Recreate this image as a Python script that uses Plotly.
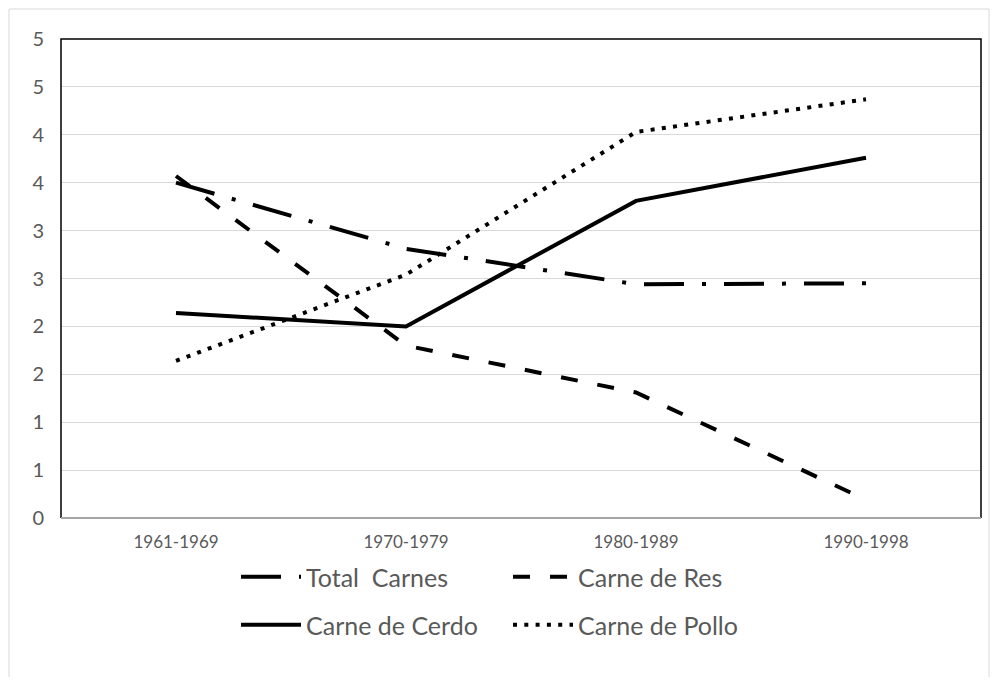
import plotly.graph_objects as go

categories = ["1961-1969", "1970-1979", "1980-1989", "1990-1998"]
total_carnes = [3.50, 2.81, 2.44, 2.45]
carne_res = [3.57, 1.80, 1.31, 0.19]
carne_cerdo = [2.14, 2.00, 3.31, 3.76]
carne_pollo = [1.64, 2.54, 4.03, 4.37]

y_tickvals = [0, 0.5, 1, 1.5, 2, 2.5, 3, 3.5, 4, 4.5, 5]
y_ticktext = ["0", "1", "1", "2", "2", "3", "3", "4", "4", "5", "5"]

# page body has an 8px margin; work in reference pixel coordinates and shift
OFF = 8
W, H = 998 - 2 * OFF, 685 - 2 * OFF
PL, PR, PT, PB = 61, 981, 39, 518          # plot area in reference pixels
L, T = PL - OFF, PT - OFF
R = W - (PR - OFF)
B = H - (PB - OFF)
pw, ph = PR - PL, PB - PT

def px2x(p):
    return (p - PL) / pw

def py2y(p):
    return (PB - p) / ph

FONT = "Lato"
xs = list(range(len(categories)))

fig = go.Figure()
fig.add_trace(go.Scatter(x=xs, y=total_carnes, name="Total  Carnes", mode="lines",
                         line=dict(color="black", width=4, dash="40px,18px,4px,18px"),
                         legend="legend"))
fig.add_trace(go.Scatter(x=xs, y=carne_res, name="Carne de Res", mode="lines",
                         line=dict(color="black", width=4, dash="17px,20px"),
                         legend="legend"))
fig.add_trace(go.Scatter(x=xs, y=carne_cerdo, name="Carne de Cerdo", mode="lines",
                         line=dict(color="black", width=4),
                         legend="legend2"))
fig.add_trace(go.Scatter(x=xs, y=carne_pollo, name="Carne de Pollo", mode="lines",
                         line=dict(color="black", width=4, dash="4px,7.3px"),
                         legend="legend2"))

leg_common = dict(orientation="h", xref="paper", yref="paper", xanchor="left",
                  yanchor="middle", entrywidth=197, entrywidthmode="pixels",
                  itemwidth=60, bgcolor="rgba(0,0,0,0)",
                  font=dict(family=FONT, size=25, color="#595959"))

fig.update_layout(
    width=W, height=H,
    margin=dict(l=L, r=R, t=T, b=B),
    paper_bgcolor="white", plot_bgcolor="white",
    font=dict(family=FONT, color="#595959"),
    showlegend=True,
    legend=dict(x=px2x(236), y=py2y(577), **leg_common),
    legend2=dict(x=px2x(236), y=py2y(625), **leg_common),
    xaxis=dict(range=[-0.5, 3.5], tickvals=xs, ticktext=categories,
               showgrid=False, zeroline=False, showline=False, ticks="",
               ticklabelstandoff=12,
               tickfont=dict(family=FONT, size=17, color="#595959")),
    yaxis=dict(range=[0, 5], tickvals=y_tickvals, ticktext=y_ticktext,
               showgrid=True, gridcolor="#d9d9d9", gridwidth=1,
               zeroline=False, showline=False, ticks="", ticklabelstandoff=16,
               tickfont=dict(family=FONT, size=20, color="#595959")),
    shapes=[
        dict(type="rect", xref="paper", yref="paper",
             x0=px2x(9), x1=px2x(989), y0=py2y(700), y1=py2y(9),
             line=dict(color="#d9d9d9", width=1), layer="below"),
        dict(type="path", xref="paper", yref="paper",
             path="M 0 0 L 0 1 L 1 1 L 1 0", line=dict(color="black", width=1.5),
             layer="above"),
        dict(type="line", xref="paper", yref="paper", x0=0, x1=1, y0=0, y1=0,
             line=dict(color="#a6a6a6", width=2), layer="above"),
    ],
)

fig.write_html("out.html")
